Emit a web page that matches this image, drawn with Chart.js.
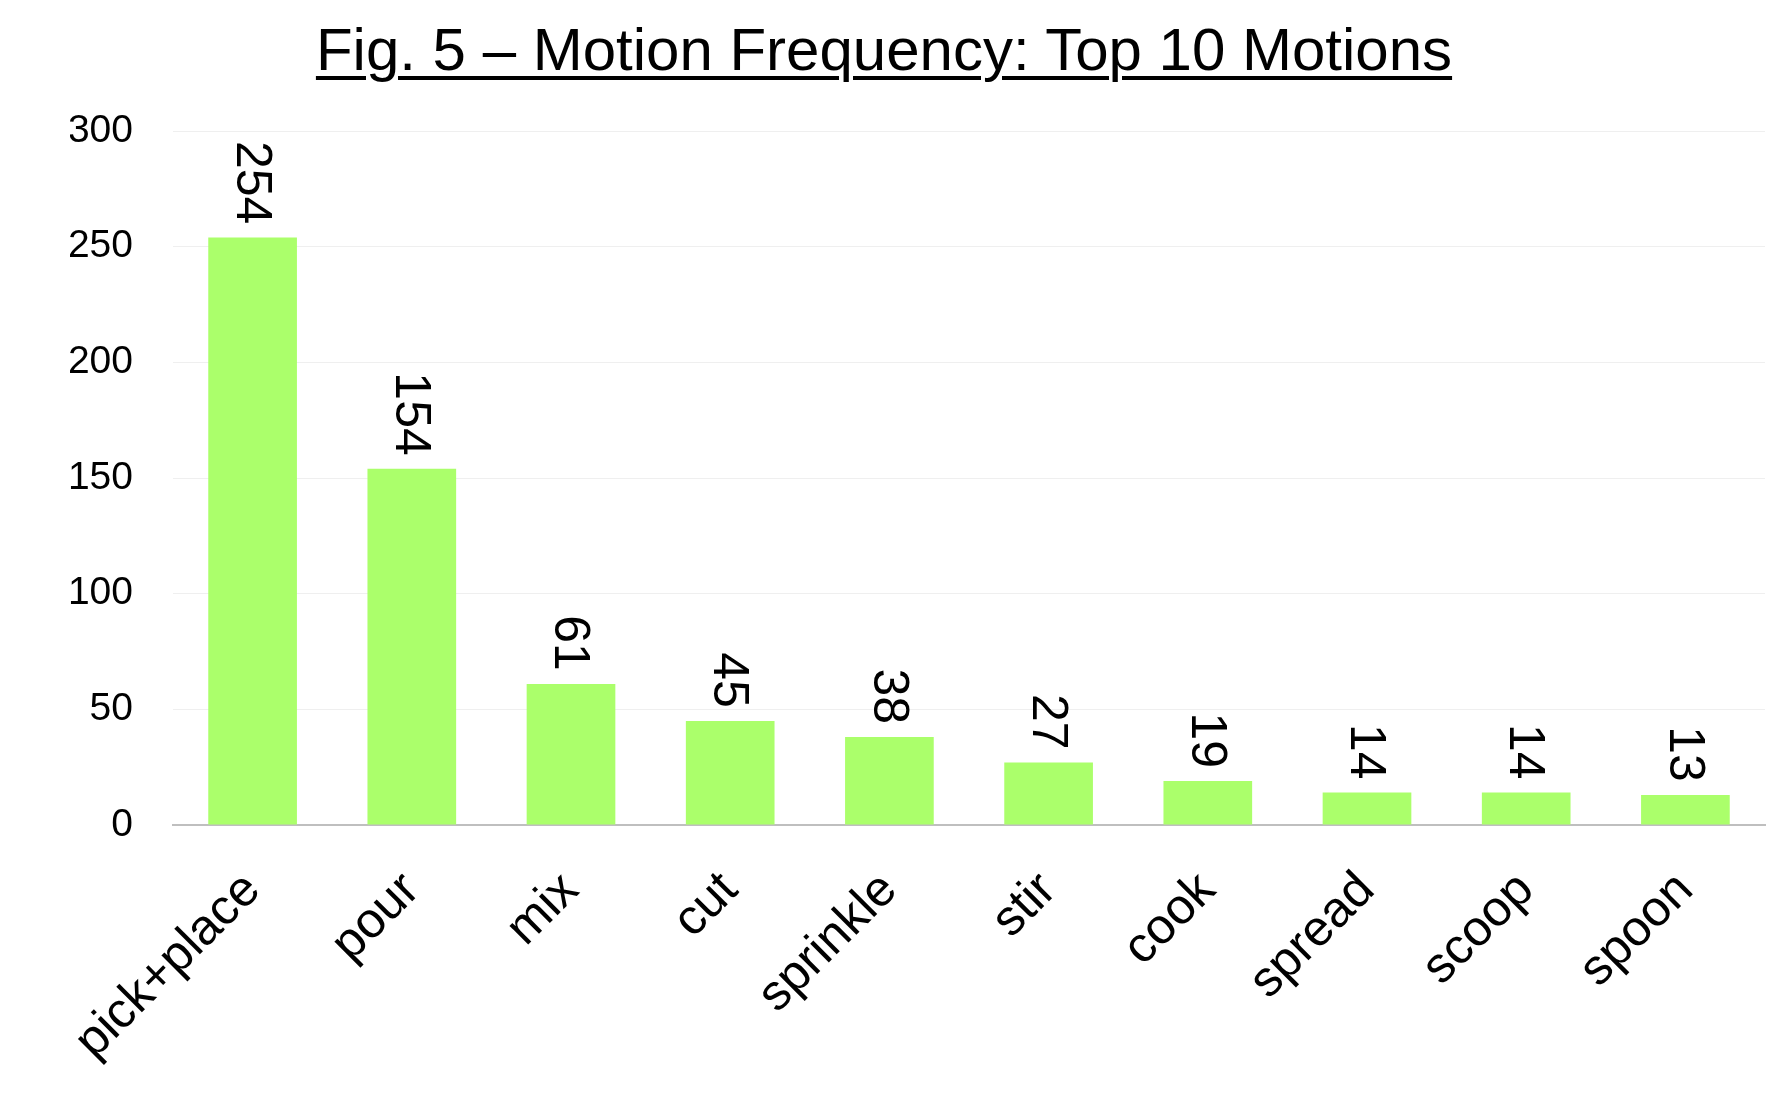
<!DOCTYPE html>
<html>
<head>
<meta charset="utf-8">
<title>Motion Frequency</title>
<script src="https://cdn.jsdelivr.net/npm/chart.js@4.4.1/dist/chart.umd.min.js"></script>
<style>
    html, body { margin: 0; padding: 0; background: #ffffff; }
    #wrap { position: relative; width: 1768px; height: 1104px; }
    #title {
        position: absolute;
        left: 0;
        top: 20px;
        width: 1768px;
        text-align: center;
        font-family: "Liberation Sans", Arial, sans-serif;
        font-size: 60px;
        line-height: 60px;
        color: #000000;
        text-decoration: underline;
        text-decoration-thickness: 4px;
        text-underline-offset: 6px;
    }
    canvas { position: absolute; left: 0; top: 0; }
</style>
</head>
<body>
<div id="wrap">
    <canvas id="motion-chart" width="1768" height="1104"></canvas>
    <div id="title">Fig. 5 – Motion Frequency: Top 10 Motions</div>
</div>
<script>
const motions = ["pick+place", "pour", "mix", "cut", "sprinkle", "stir", "cook", "spread", "scoop", "spoon"];
const counts = [254, 154, 61, 45, 38, 27, 19, 14, 14, 13];
const yTicks = [0, 50, 100, 150, 200, 250, 300];

Chart.defaults.font.family = '"Liberation Sans", Arial, sans-serif';
Chart.defaults.color = "#000000";

// Draws the value above each bar, rotated 90 degrees
const barValueLabels = {
    id: "barValueLabels",
    afterDatasetsDraw(chart) {
        const ctx = chart.ctx;
        const meta = chart.getDatasetMeta(0);
        ctx.save();
        ctx.font = '50px "Liberation Sans", Arial, sans-serif';
        ctx.fillStyle = "#000000";
        ctx.textAlign = "right";
        ctx.textBaseline = "middle";
        meta.data.forEach((bar, i) => {
            ctx.save();
            ctx.translate(bar.x - 2, bar.y - 13);
            ctx.rotate(Math.PI / 2);
            ctx.fillText(String(counts[i]), 0, 0);
            ctx.restore();
        });
        ctx.restore();
    }
};

document.addEventListener("DOMContentLoaded", function () {
    const ctx = document.getElementById("motion-chart").getContext("2d");

    new Chart(ctx, {
        type: "bar",
        data: {
            labels: motions,
            datasets: [
                {
                    label: "Motions",
                    data: counts,
                    backgroundColor: "#abff6b",
                    borderWidth: 0,
                    barPercentage: 0.557,
                    categoryPercentage: 1.0,
                },
            ],
        },
        options: {
            responsive: false,
            animation: false,
            maintainAspectRatio: false,
            layout: {
                padding: { top: 131, left: 70, right: 3, bottom: 0 },
            },
            plugins: {
                legend: { display: false },
                title: { display: false },
                tooltip: { enabled: false },
            },
            scales: {
                x: {
                    grid: { display: false, drawTicks: false },
                    border: { display: true, color: "#bfbfbf", width: 2 },
                    ticks: {
                        font: { size: 50 },
                        color: "#000000",
                        minRotation: 45,
                        maxRotation: 45,
                        padding: 36,
                    },
                    afterFit: (scale) => { scale.height = 279; },
                },
                y: {
                    min: 0,
                    max: 300,
                    afterBuildTicks: (scale) => {
                        scale.ticks = yTicks.map((v) => ({ value: v }));
                    },
                    grid: { color: "#efefef", lineWidth: 1, drawTicks: false },
                    border: { display: false },
                    ticks: {
                        font: { size: 39 },
                        color: "#000000",
                        padding: 40,
                    },
                    afterFit: (scale) => { scale.width = 103; },
                },
            },
        },
        plugins: [barValueLabels],
    });
});
</script>
</body>
</html>
